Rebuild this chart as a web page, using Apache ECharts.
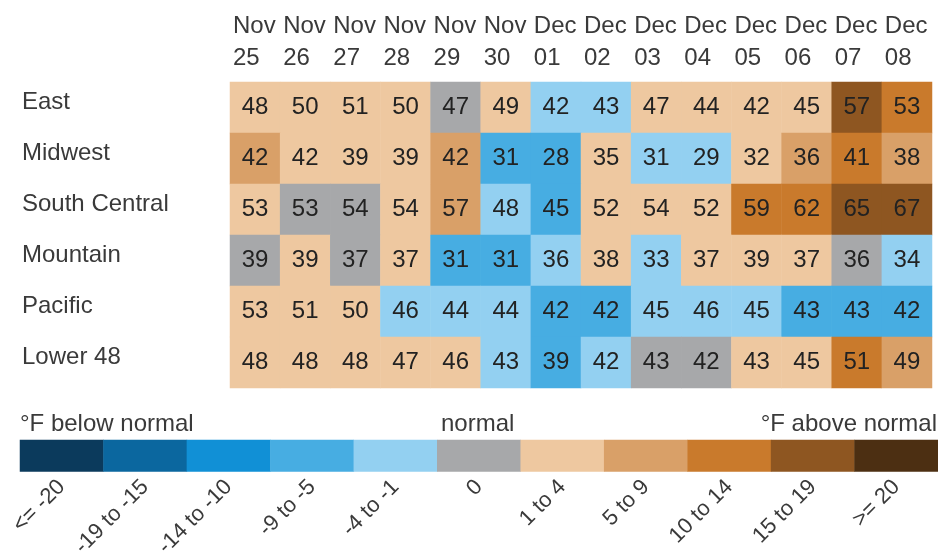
<!DOCTYPE html>
<html>
<head>
<meta charset="utf-8">
<script src="https://cdn.jsdelivr.net/npm/echarts@6/dist/echarts.min.js"></script>
<style>
  html, body { margin: 0; padding: 0; background: #fff; }
  #chart { width: 938px; height: 560px; }
</style>
</head>
<body>
<div id="chart"></div>
<script>
// dates and regions
var dates = ["Nov 25", "Nov 26", "Nov 27", "Nov 28", "Nov 29", "Nov 30", "Dec 01",
             "Dec 02", "Dec 03", "Dec 04", "Dec 05", "Dec 06", "Dec 07", "Dec 08"];
var regions = ["East", "Midwest", "South Central", "Mountain", "Pacific", "Lower 48"];

// temperature shown in each cell (°F)
var temps = [
  [48, 50, 51, 50, 47, 49, 42, 43, 47, 44, 42, 45, 57, 53],
  [42, 42, 39, 39, 42, 31, 28, 35, 31, 29, 32, 36, 41, 38],
  [53, 53, 54, 54, 57, 48, 45, 52, 54, 52, 59, 62, 65, 67],
  [39, 39, 37, 37, 31, 31, 36, 38, 33, 37, 39, 37, 36, 34],
  [53, 51, 50, 46, 44, 44, 42, 42, 45, 46, 45, 43, 43, 42],
  [48, 48, 48, 47, 46, 43, 39, 42, 43, 42, 43, 45, 51, 49]
];

// deviation class of each cell (index into classLabels)
var classes = [
  [6, 6, 6, 6, 5, 6, 4, 4, 6, 6, 6, 6, 9, 8],
  [7, 6, 6, 6, 7, 3, 3, 6, 4, 4, 6, 7, 8, 7],
  [6, 5, 5, 6, 7, 4, 3, 6, 6, 6, 8, 8, 9, 9],
  [5, 6, 5, 6, 3, 3, 4, 6, 4, 6, 6, 6, 5, 4],
  [6, 6, 6, 4, 4, 4, 3, 3, 4, 4, 4, 3, 3, 3],
  [6, 6, 6, 6, 6, 4, 3, 4, 5, 5, 6, 6, 8, 7]
];

// legend classes
var classLabels = ["<= -20", "-19 to -15", "-14 to -10", "-9 to -5", "-4 to -1", "0",
                   "1 to 4", "5 to 9", "10 to 14", "15 to 19", ">= 20"];
var classColors = ["#0b3a5c", "#0b679f", "#1190d6", "#47ade2", "#93d0f1", "#a7a8aa",
                   "#eec8a0", "#d9a068", "#c97a2c", "#8e5621", "#4c2f12"];

var font = "'Liberation Sans', Arial, sans-serif";

var cells = [];
temps.forEach(function (row, r) {
  row.forEach(function (t, c) {
    cells.push([c, r, classes[r][c], t]);
  });
});
var legendCells = classLabels.map(function (l, i) { return [i, 0, i]; });

var chart = echarts.init(document.getElementById("chart"));
var option = {
  animation: false,
  textStyle: { fontFamily: font },
  grid: [
    { left: 230, right: 0, top: 82, height: 306 },
    { left: 20, right: 0, top: 440, height: 47 }
  ],
  xAxis: [
    { type: "category", gridIndex: 0, data: dates, show: false },
    // label axis: ticks on cell edges so labels can sit left aligned
    {
      type: "category", gridIndex: 0, position: "top", boundaryGap: false,
      data: dates.concat([""]),
      axisLine: { show: false }, axisTick: { show: false },
      axisLabel: {
        interval: 0, align: "left", fontSize: 24, lineHeight: 32, margin: 8,
        color: "#3a3a3a", fontFamily: font, padding: [0, 0, 0, 3],
        formatter: function (v) { return v.replace(" ", "\n"); }
      }
    },
    {
      type: "category", gridIndex: 1, data: classLabels,
      axisLine: { show: false }, axisTick: { show: false },
      axisLabel: { interval: 0, rotate: 45, fontSize: 22, margin: 12, color: "#3a3a3a", fontFamily: font }
    }
  ],
  yAxis: [
    {
      type: "category", gridIndex: 0, data: regions, inverse: true,
      axisLine: { show: false }, axisTick: { show: false },
      // row names sit a little above the cell centres
      axisLabel: {
        align: "left", verticalAlign: "bottom", lineHeight: 10, margin: 208,
        fontSize: 24, color: "#3a3a3a", fontFamily: font
      }
    },
    { type: "category", gridIndex: 1, data: [""], show: false }
  ],
  visualMap: {
    type: "piecewise", show: false, dimension: 2, seriesIndex: [0, 1],
    pieces: classColors.map(function (c, i) { return { value: i, color: c }; })
  },
  graphic: [
    { type: "text", left: 20, top: 412, style: { text: "°F below normal", font: "24px " + font, fill: "#3a3a3a" } },
    { type: "text", left: 441, top: 412, style: { text: "normal", font: "24px " + font, fill: "#3a3a3a" } },
    { type: "text", right: 1, top: 412, style: { text: "°F above normal", font: "24px " + font, fill: "#3a3a3a" } }
  ],
  series: [
    {
      type: "heatmap", xAxisIndex: 0, yAxisIndex: 0, data: cells,
      label: {
        show: true, fontSize: 24, color: "#222", fontFamily: font,
        formatter: function (p) { return p.value[3]; }
      },
      emphasis: { disabled: true }
    },
    {
      type: "heatmap", xAxisIndex: 2, yAxisIndex: 1, data: legendCells,
      emphasis: { disabled: true }
    }
  ]
};
chart.setOption(option);
</script>
</body>
</html>
